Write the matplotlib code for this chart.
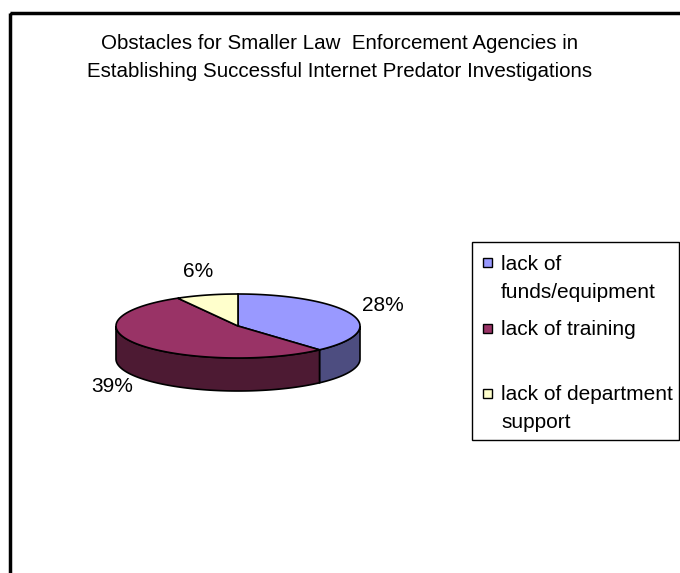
import textwrap
import numpy as np
import matplotlib
matplotlib.use("Agg")
import matplotlib.pyplot as plt
from matplotlib.patches import Polygon, Rectangle

# ---- data ----
title_lines = ["Obstacles for Smaller Law  Enforcement Agencies in",
               "Establishing Successful Internet Predator Investigations"]
categories = ["lack of funds/equipment", "lack of training", "lack of department support"]
values = [28, 39, 6]
value_labels = ["28%", "39%", "6%"]
top_colors = ["#9999FF", "#993366", "#FFFFCC"]
side_colors = ["#4D4D80", "#4D1A33", "#80805F"]

plt.rcParams["font.family"] = ["Liberation Sans", "DejaVu Sans"]
FS = 15
TFS = 14.8

fig = plt.figure(figsize=(6.8, 5.73), dpi=100)
ax = fig.add_axes([0, 0, 1, 1])
ax.set_xlim(0, 680)
ax.set_ylim(573, 0)
ax.axis("off")

# chart frame
ax.add_patch(Rectangle((10, 12.5), 700, 600, fill=False, lw=2.5, ec="black"))

for i, line in enumerate(title_lines):
    ax.text(340, 49 + 28 * i, line, ha="center", va="baseline", fontsize=TFS)

# ---- 3D pie geometry ----
cx, cy, rx, ry, depth = 238, 326, 122, 32, 33
vals = np.array(values, float)
fracs = vals / vals.sum()
starts = 90 - 360 * np.concatenate([[0], np.cumsum(fracs)[:-1]])
ends = starts - 360 * fracs

def pt(a, dz=0.0):
    r = np.deg2rad(a)
    return cx + rx * np.cos(r), cy - ry * np.sin(r) + dz

# walls (front half: angles in [-180, 0] modulo 360)
for s, e, sc in zip(starts, ends, side_colors):
    for k in (0, -360):
        lo = max(e, -180 + k)
        hi = min(s, 0 + k)
        if hi > lo:
            ts = np.linspace(lo, hi, 80)
            top = [pt(t) for t in ts]
            bot = [pt(t, depth) for t in ts[::-1]]
            ax.add_patch(Polygon(top + bot, closed=True, fc=sc, ec="black", lw=1.2, zorder=2))

# top wedges
for s, e, tc in zip(starts, ends, top_colors):
    ts = np.linspace(s, e, 150)
    poly = [(cx, cy)] + [pt(t) for t in ts]
    ax.add_patch(Polygon(poly, closed=True, fc=tc, ec="black", lw=1.2, zorder=3))

# value labels
for s, e, lab in zip(starts, ends, value_labels):
    m = np.deg2rad((s + e) / 2)
    x = cx + (rx + 33) * np.cos(m)
    y = cy - (ry + 24) * np.sin(m) + (0.85 * depth if np.sin(m) < 0 else 0)
    ax.text(x, y, lab, ha="center", va="center", fontsize=FS, zorder=4)

# ---- legend ----
lx0, ly0, lx1, ly1 = 472, 242, 679, 440
ax.add_patch(Rectangle((lx0, ly0), lx1 - lx0, ly1 - ly0, fill=False, ec="black", lw=1, zorder=4))
entry_y = [262.5, 328, 393]
for cat, col, yy in zip(categories, top_colors, entry_y):
    ax.add_patch(Rectangle((482.5, yy - 4.5), 9, 9, fc=col, ec="black", lw=1, zorder=5))
    for j, line in enumerate(textwrap.wrap(cat, 18)):
        ax.text(501, yy + 7 + 28 * j, line, ha="left", va="baseline",
                fontsize=FS, zorder=5)

fig.savefig("out.png", dpi=100)
